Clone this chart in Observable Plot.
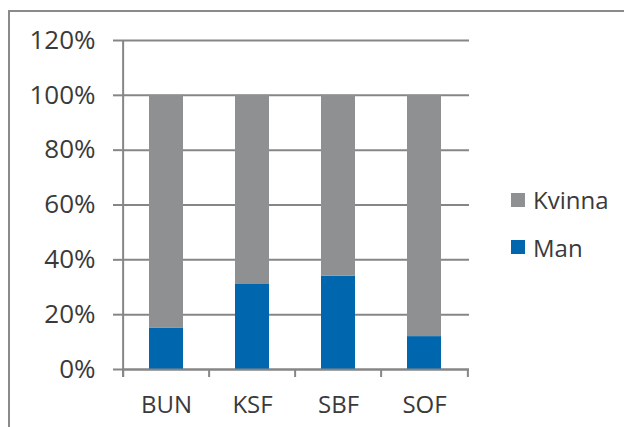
<!DOCTYPE html>
<html>
<head>
<meta charset="utf-8">
<script src="https://cdn.jsdelivr.net/npm/d3@7"></script>
<script src="https://cdn.jsdelivr.net/npm/@observablehq/plot@0.6"></script>
<style>
  html, body { margin: 0; padding: 0; background: #fff; overflow: hidden; }
  #wrap { position: relative; width: 624px; height: 427px; overflow: hidden; }
  #frame { position: absolute; left: 8px; top: 10px; width: 800px; height: 600px;
           border: 2px solid #8a8a8a; box-sizing: border-box; }
  #chart { position: absolute; left: 0; top: 0; }
  #legend { position: absolute; left: 511px; top: 0; font-family: "Open Sans", sans-serif;
            font-size: 24px; color: #3a3a3a; }
  .item { position: absolute; left: 0; display: flex; align-items: center; white-space: nowrap; height: 30px; }
  .sw { width: 14px; height: 14px; margin-right: 8px; }
</style>
</head>
<body>
<div id="wrap">
  <div id="frame"></div>
  <div id="chart"></div>
  <div id="legend"></div>
</div>
<script>
const categories = ["BUN", "KSF", "SBF", "SOF"];
const series = ["Man", "Kvinna"];
const manValues = [0.15, 0.31, 0.34, 0.12];
const kvinnaValues = [0.85, 0.69, 0.66, 0.88];
const yTicks = [0, 0.2, 0.4, 0.6, 0.8, 1.0, 1.2];
const legendOrder = ["Kvinna", "Man"];
const colors = {Kvinna: "#8f9092", Man: "#0066ae"};

const data = [
  ...categories.map((c, i) => ({cat: c, sex: "Man", value: manValues[i]})),
  ...categories.map((c, i) => ({cat: c, sex: "Kvinna", value: kvinnaValues[i]}))
];

const W = 624, H = 427;
const mL = 122, mR = 155, mT = 40, mB = 58;
const step = (W - mL - mR) / categories.length;
const gridColor = "#868686";
const font = "Open Sans, sans-serif";
const textColor = "#3a3a3a";

const chart = Plot.plot({
  width: W,
  height: H,
  marginLeft: mL,
  marginRight: mR,
  marginTop: mT,
  marginBottom: mB,
  style: {fontFamily: font, fontSize: "24px", color: textColor, background: "transparent", overflow: "visible"},
  x: {domain: categories, paddingInner: 0.6, paddingOuter: 0.3, label: null},
  y: {domain: [0, 1.2], label: null},
  color: {domain: legendOrder, range: legendOrder.map(s => colors[s])},
  marks: [
    Plot.gridY({ticks: yTicks, stroke: gridColor, strokeOpacity: 1, strokeWidth: 2}),
    Plot.barY(data, {x: "cat", y: "value", fill: "sex", order: series}),
    Plot.axisY({ticks: yTicks, tickSize: 9, text: null, stroke: gridColor, strokeWidth: 2, strokeOpacity: 1, label: null}),
    Plot.text(yTicks, {y: d => d, frameAnchor: "left", dx: -27, textAnchor: "end",
      text: d => d3.format(".0%")(d), fill: textColor, fontSize: 26, fontFamily: font}),
    Plot.axisX({tickSize: 0, tickPadding: 26, fill: textColor, fontSize: 24, label: null}),
    // category boundary ticks below the x axis
    Plot.ruleX(categories, {x: d => d, dx: -step / 2, y1: 0, y2: 0, insetBottom: -8, stroke: gridColor, strokeWidth: 2}),
    Plot.ruleX([categories[categories.length - 1]], {x: d => d, dx: step / 2, y1: 0, y2: 0, insetBottom: -8, stroke: gridColor, strokeWidth: 2}),
    // y axis line
    Plot.ruleX([categories[0]], {x: d => d, dx: -step / 2, y1: 1.2, y2: 0, insetBottom: -8, stroke: gridColor, strokeWidth: 2}),
    // x axis line
    Plot.ruleY([0], {stroke: gridColor, strokeWidth: 2})
  ]
});
document.getElementById("chart").appendChild(chart);

const legend = document.getElementById("legend");
const legendTops = [184.5, 232];
legendOrder.forEach((s, i) => {
  const item = document.createElement("div");
  item.className = "item";
  item.style.top = legendTops[i] + "px";
  const sw = document.createElement("div");
  sw.className = "sw";
  sw.style.background = colors[s];
  const t = document.createElement("span");
  t.textContent = s;
  item.appendChild(sw);
  item.appendChild(t);
  legend.appendChild(item);
});
</script>
</body>
</html>
